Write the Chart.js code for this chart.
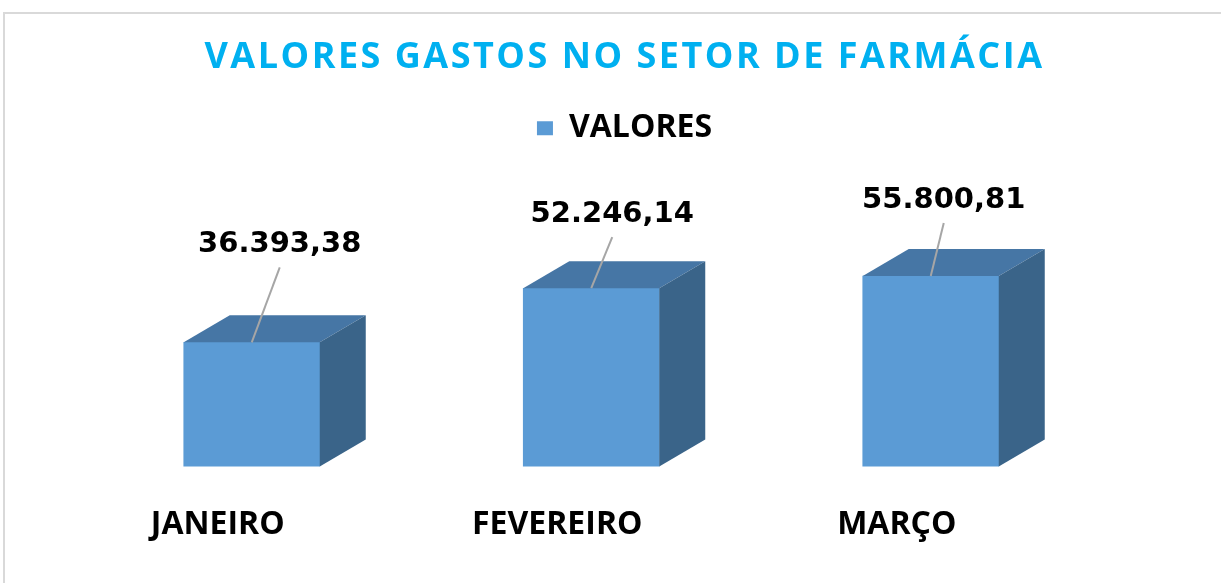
<!DOCTYPE html>
<html>
<head>
<meta charset="utf-8">
<script src="https://cdn.jsdelivr.net/npm/chart.js@4.4.0/dist/chart.umd.min.js"></script>
<style>
  html, body { margin: 0; padding: 0; background: #fff; overflow: hidden; }
  #wrap { position: relative; width: 1221px; height: 583px; }
  #frame { position: absolute; left: 3px; top: 12px; width: 1240px; height: 620px; border: 2px solid #D9D9D9; box-sizing: border-box; }
  canvas { position: absolute; left: 0; top: 0; }
</style>
</head>
<body>
<div id="wrap">
  <div id="frame"></div>
  <canvas id="gastosChart" width="1221" height="583"></canvas>
</div>
<script>
const meses = ['JANEIRO', 'FEVEREIRO', 'MARÇO'];
const valores = [36393.38, 52246.14, 55800.81];
const serieNome = 'VALORES';

// where each value label sits relative to its bar (moved by hand in the original)
const rotuloDx = [28, 21, 13];
const rotuloSobe = [98, 74, 76];

const frente = '#5B9BD5';
const topo = '#4676A5';
const lado = '#3A6489';
const prof = { dx: 46, dy: 27 };

function formatBR(v) {
    const partes = v.toFixed(2).split('.');
    const inteiro = partes[0].replace(/\B(?=(\d{3})+(?!\d))/g, '.');
    return inteiro + ',' + partes[1];
}

// hidden axis that only reserves some width
function eixoVazio(pos, largura) {
    return {
        position: pos,
        display: true,
        grid: { display: false, drawTicks: false },
        border: { display: false },
        ticks: { display: false },
        afterFit: (s) => { s.width = largura; }
    };
}

// draws the top and side of every bar, then the labels with their leader lines
const barras3d = {
    id: 'barras3d',
    afterInit(chart) {
        // the original title is a bit wider spaced
        const t = chart.titleBlock;
        const draw = t.draw.bind(t);
        t.draw = (area) => {
            chart.ctx.save();
            chart.ctx.letterSpacing = '2.5px';
            draw(area);
            chart.ctx.restore();
        };
    },
    afterDatasetsDraw(chart) {
        const ctx = chart.ctx;
        const meta = chart.getDatasetMeta(0);
        meta.data.forEach((bar, i) => {
            const p = bar.getProps(['x', 'y', 'base', 'width'], true);
            const l = p.x - p.width / 2;
            const r = p.x + p.width / 2;
            ctx.save();
            ctx.fillStyle = topo;
            ctx.beginPath();
            ctx.moveTo(l, p.y);
            ctx.lineTo(l + prof.dx, p.y - prof.dy);
            ctx.lineTo(r + prof.dx, p.y - prof.dy);
            ctx.lineTo(r, p.y);
            ctx.closePath();
            ctx.fill();
            ctx.fillStyle = lado;
            ctx.beginPath();
            ctx.moveTo(r, p.y);
            ctx.lineTo(r + prof.dx, p.y - prof.dy);
            ctx.lineTo(r + prof.dx, p.base - prof.dy);
            ctx.lineTo(r, p.base);
            ctx.closePath();
            ctx.fill();

            const lx = p.x + rotuloDx[i];
            const ly = p.y - rotuloSobe[i];
            ctx.strokeStyle = '#A6A6A6';
            ctx.lineWidth = 2;
            ctx.beginPath();
            ctx.moveTo(lx, ly + 23);
            ctx.lineTo(p.x, p.y);
            ctx.stroke();

            ctx.fillStyle = '#000';
            ctx.font = 'bold 29px "DejaVu Sans"';
            ctx.textAlign = 'center';
            ctx.textBaseline = 'middle';
            ctx.fillText(formatBR(valores[i]), lx, ly);
            ctx.restore();
        });
    }
};

new Chart(document.getElementById('gastosChart'), {
    type: 'bar',
    data: {
        labels: meses,
        datasets: [{
            label: serieNome,
            data: valores,
            backgroundColor: frente,
            borderWidth: 0,
            barThickness: 136
        }]
    },
    options: {
        responsive: false,
        animation: false,
        layout: {
            padding: { left: 35, right: 7, top: 0, bottom: 0 }
        },
        scales: {
            x: {
                grid: { display: false, drawTicks: false },
                border: { display: false },
                ticks: {
                    color: '#000',
                    padding: 39,
                    labelOffset: -34,
                    font: { family: 'Open Sans', size: 32, weight: 'bold' }
                }
            },
            y: Object.assign(eixoVazio('left', 47), { min: 0, max: 91500 }),
            y2: eixoVazio('right', 113.5)
        },
        plugins: {
            title: {
                display: true,
                text: 'VALORES GASTOS NO SETOR DE FARMÁCIA',
                color: '#00B0F0',
                padding: { top: 36, bottom: 0 },
                font: { family: 'Open Sans', size: 36, weight: 'bold' }
            },
            legend: {
                display: true,
                labels: {
                    color: '#000',
                    boxWidth: 16,
                    boxHeight: 14,
                    padding: 33,
                    font: { family: 'Open Sans', size: 32, weight: 'bold' }
                }
            },
            tooltip: { enabled: false }
        }
    },
    plugins: [barras3d]
});
</script>
</body>
</html>
